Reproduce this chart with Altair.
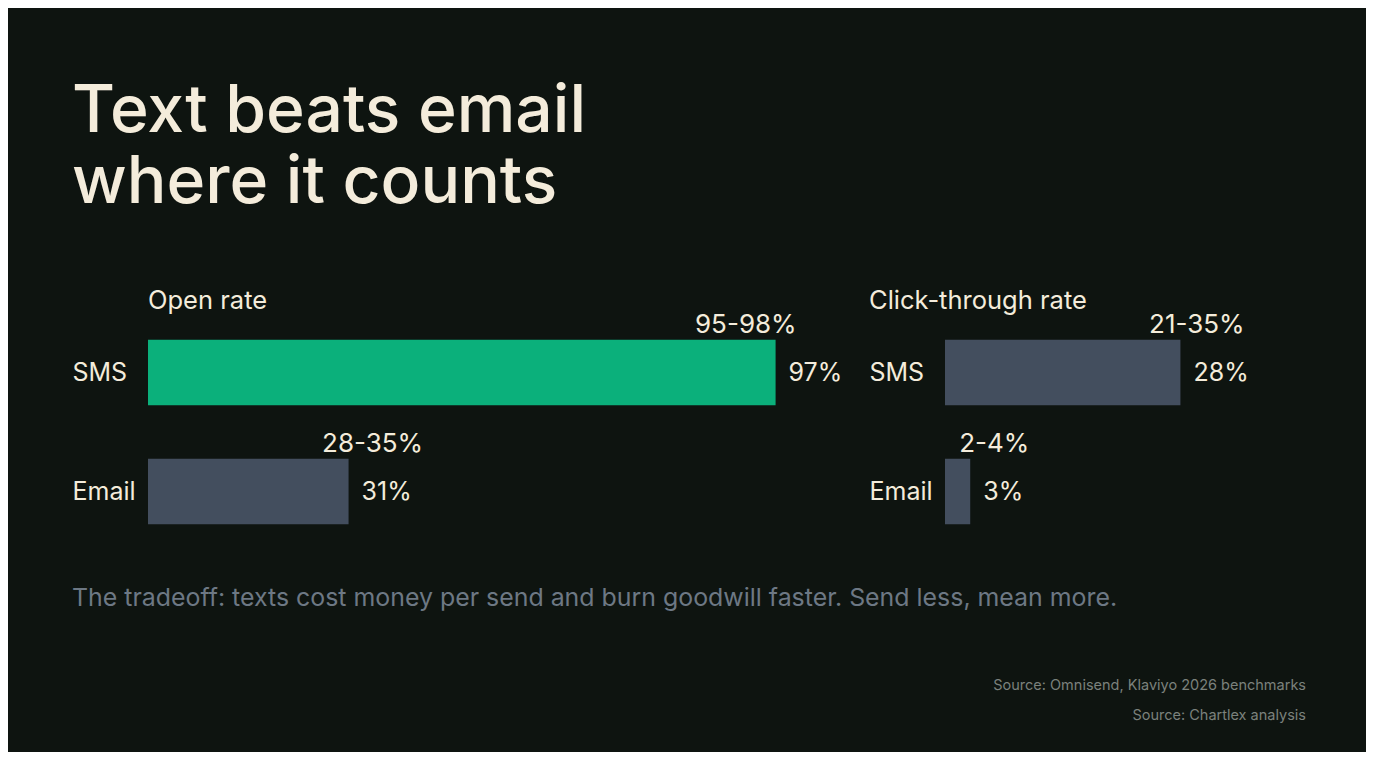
import altair as alt
import pandas as pd

BG = "#0e1410"
CREAM = "#f4ecdb"
GREEN = "#0bb07b"
SLATE = "#434e5e"
FONT = "Inter"

channels = ["SMS", "Email"]
open_vals = [97, 31]
open_ranges = ["95-98%", "28-35%"]
open_colors = [GREEN, SLATE]
ctr_vals = [28, 3]
ctr_ranges = ["21-35%", "2-4%"]
ctr_colors = [SLATE, SLATE]

subtitle_text = ["The tradeoff: texts cost money per send and burn goodwill faster. Send less, mean more."]
source_lines = ["Source: Omnisend, Klaviyo 2026 benchmarks", "Source: Chartlex analysis"]


def frame(vals, ranges, colors):
    return pd.DataFrame({
        "channel": channels,
        "value": vals,
        "label": [f"{v}%" for v in vals],
        "range": ranges,
        "color": colors,
    })


def panel(df, title, xmax, width, title_dx, extra=None):
    ppu = width / xmax  # pixels per percentage point
    y = alt.Y("channel:N", sort=channels, title=None,
              scale=alt.Scale(paddingInner=0.45, paddingOuter=0.225),
              axis=alt.Axis(labelAlign="left", labelPadding=76, labelFontSize=25,
                            labelColor=CREAM, labelFont=FONT, domain=False, ticks=False,
                            grid=False))
    xs = alt.Scale(domain=[0, xmax])
    x = alt.X("value:Q", scale=xs, axis=None)
    base = alt.Chart(df)
    bars = base.mark_bar().encode(x=x, y=y, color=alt.Color("color:N", scale=None))
    vals = base.mark_text(align="left", baseline="middle", dx=13, fontSize=25,
                          font=FONT, color=CREAM).encode(x=x, y=y, text="label:N")
    # range label centred just past the bar end, kept inside the panel's right edge
    rngs = base.transform_calculate(
        rx=f"min(datum.value + {24 / ppu}, {xmax} - length(datum.range) * {8.2 / ppu})"
    ).mark_text(align="center", baseline="alphabetic", dy=-40,
                fontSize=26, font=FONT, color=CREAM).encode(
        x=alt.X("rx:Q", scale=xs, axis=None), y=y, text="range:N")
    layers = [bars, vals, rngs]
    if extra:
        layers += extra
    return alt.layer(*layers).properties(
        width=width, height=238,
        title=alt.TitleParams(title, anchor="start", frame="group", fontSize=25.5,
                              font=FONT, fontWeight="normal", color=CREAM,
                              offset=-3, dx=title_dx),
    )


sub_df = pd.DataFrame({"t": subtitle_text})
src_df = pd.DataFrame({"t": ["\n".join(source_lines)]})

subtitle = alt.Chart(sub_df).mark_text(align="left", baseline="middle", fontSize=24.9,
                                       font=FONT, color="#6d7884").encode(
    text="t:N", x=alt.value(-76), y=alt.value(286))
sources = alt.Chart(src_df).mark_text(align="right", baseline="middle", fontSize=14.5,
                                      font=FONT, color="#7b817c", lineBreak="\n",
                                      lineHeight=30).encode(
    text="t:N", x=alt.value(1158), y=alt.value(373))

left = panel(frame(open_vals, open_ranges, open_colors), "Open rate", 100, 647, 0,
             extra=[subtitle, sources])
right = panel(frame(ctr_vals, ctr_ranges, ctr_colors), "Click-through rate", 35.8, 301, -76)

chart = alt.hconcat(left, right, spacing=150, bounds="flush").resolve_scale(
    y="independent", x="independent", color="independent"
).properties(
    title=alt.TitleParams(["Text beats email", "where it counts"], anchor="start",
                          frame="bounds", fontSize=66, lineHeight=71, font=FONT,
                          fontWeight=500, color=CREAM, offset=72),
    background=BG,
    padding={"left": 64, "top": 71, "right": 60, "bottom": 29},
).configure_view(stroke=None).configure_concat(spacing=150)

chart.save("out.html", embed_options={"renderer": "svg", "actions": False})
